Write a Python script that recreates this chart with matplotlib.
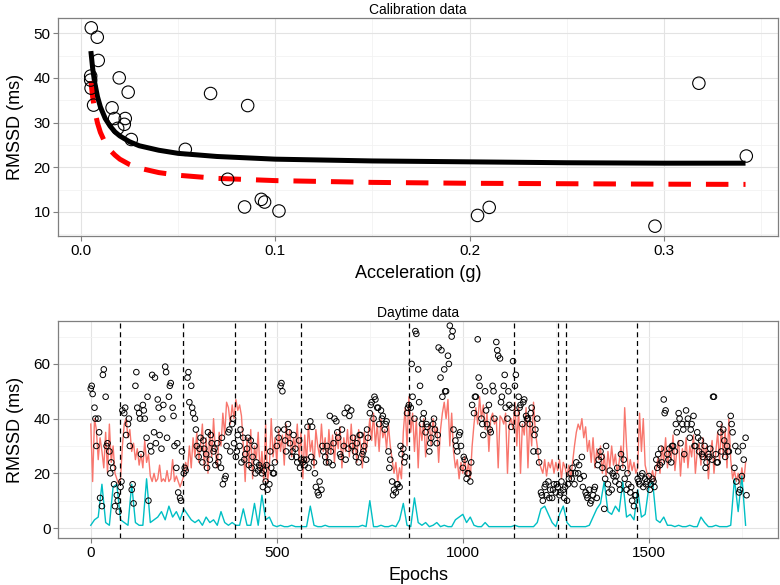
import numpy as np
import matplotlib.pyplot as plt

plt.rcParams['font.family'] = ['Liberation Sans', 'DejaVu Sans']

# calibration data (top panel)
calib_acc = [0.0053, 0.0084, 0.0089, 0.0050, 0.0050, 0.0052, 0.0065, 0.0197, 0.0243,
             0.0160, 0.0173, 0.0228, 0.0223, 0.0189, 0.0259, 0.0537, 0.0667, 0.0858,
             0.0755, 0.0842, 0.0928, 0.0945, 0.1019, 0.2041, 0.2101, 0.2954, 0.3180, 0.3424]
calib_rmssd = [51.2, 49.1, 43.9, 40.4, 39.5, 37.7, 33.9, 40.0, 36.8,
               33.3, 30.9, 30.9, 29.6, 28.7, 26.2, 24.0, 36.5, 33.8,
               17.3, 11.1, 12.8, 12.2, 10.2, 9.2, 11.0, 6.8, 38.8, 22.5]

# fitted curves
fit_acc = [0.0051, 0.006, 0.007, 0.0085, 0.01, 0.0125, 0.015, 0.0175, 0.02, 0.025,
           0.03, 0.04, 0.05, 0.07, 0.1, 0.15, 0.2, 0.25, 0.3, 0.342]
fit_black = [46.0, 42.2, 39.1, 35.8, 33.5, 30.9, 29.2, 27.9, 27.0, 25.7,
             24.8, 23.8, 23.1, 22.4, 21.8, 21.4, 21.2, 21.0, 20.9, 20.9]
fit_red = [39.3, 35.8, 32.9, 29.9, 27.8, 25.4, 23.8, 22.7, 21.8, 20.6,
           19.8, 18.8, 18.2, 17.5, 17.0, 16.6, 16.4, 16.3, 16.2, 16.15]

# daytime data (bottom panel), every 5th epoch
epochs = np.arange(0, 1761, 5)
rmssd_day = [
    51, 49, 44, 30, 40, 11, 8, 58, 48, 31,
    28, 24, 22, 8, 12, 6, 15, 43, 42, 34,
    38, 30, 14, 9, 52, 44, 42, 27, 45, 40,
    33, 10, 30, 56, 35, 31, 47, 34, 29, 45,
    59, 33, 48, 53, 44, 30, 22, 13, 11, 28,
    20, 21, 55, 46, 52, 42, 40, 30, 26, 33,
    24, 29, 27, 35, 25, 31, 28, 23, 31, 26,
    22, 16, 18, 30, 35, 28, 38, 31, 26, 34,
    30, 24, 33, 27, 29, 23, 32, 26, 30, 24,
    21, 22, 20, 21, 17, 14, 16, 22, 20, 24,
    30, 33, 52, 50, 36, 28, 38, 31, 26, 34,
    29, 24, 32, 25, 24, 23, 25, 22, 39, 37,
    24, 15, 13, 17, 14, 28, 26, 30, 24, 28,
    23, 40, 39, 33, 27, 36, 30, 25, 44, 41,
    43, 33, 28, 31, 24, 34, 27, 30, 25, 33,
    42, 46, 40, 47, 44, 38, 43, 41, 36, 39,
    28, 25, 17, 14, 13, 16, 15, 27, 29, 26,
    42, 45, 44, 48, 40, 71, 58, 52, 38, 42,
    35, 37, 28, 33, 38, 36, 31, 66, 55, 48,
    58, 50, 63, 74, 70, 36, 32, 28, 34, 30,
    22, 25, 18, 20, 17, 45, 42, 48, 69, 52,
    40, 34, 50, 38, 45, 35, 52, 40, 68, 63,
    62, 48, 52, 44, 40, 45, 37, 61, 52, 42,
    48, 45, 38, 47, 41, 40, 38, 44, 28, 36,
    40, 24, 13, 10, 15, 12, 17, 14, 11, 16,
    13, 15, 12, 17, 14, 15, 10, 18, 20, 22,
    16, 24, 20, 18, 26, 19, 13, 11, 14, 10,
    12, 15, 11, 25, 28, 22, 7, 30, 16, 21,
    14, 19, 17, 22, 16, 27, 22, 18, 14, 16,
    13, 10, 8, 12, 18, 16, 19, 15, 18, 17,
    19, 16, 18, 15, 25, 27, 23, 24, 47, 43,
    27, 29, 24, 30, 28, 35, 42, 31, 38, 27,
    43, 40, 33, 38, 41, 30, 35, 28, 32, 26,
    30, 24, 27, 29, 25, 48, 27, 24, 38, 28,
    36, 26, 30, 28, 41, 35, 22, 17, 28, 14,
    19, 25, 33]
# more RMSSD points in between (every 10th epoch, shifted by 2.5)
epochs_b = np.arange(2.5, 1763, 10)
rmssd_day_b = [
    52, 40, 35, 56, 30, 20, 16, 10, 17, 44,
    40, 16, 57, 40, 43, 48, 28, 55, 44, 40,
    57, 52, 41, 31, 10, 22, 57, 44, 36, 29,
    32, 22, 34, 29, 24, 33, 19, 36, 40, 28,
    36, 25, 33, 22, 20, 23, 15, 23, 28, 20,
    36, 53, 32, 35, 28, 26, 22, 25, 37, 26,
    20, 12, 30, 24, 41, 31, 35, 26, 42, 29,
    30, 26, 34, 28, 36, 45, 48, 44, 40, 38,
    22, 12, 16, 30, 24, 44, 60, 72, 46, 40,
    38, 31, 40, 34, 65, 50, 60, 72, 30, 35,
    26, 20, 24, 48, 55, 38, 43, 36, 50, 65,
    46, 56, 50, 44, 56, 44, 46, 40, 42, 34,
    28, 12, 16, 11, 14, 16, 13, 11, 16, 18,
    20, 23, 15, 12, 9, 14, 23, 26, 18, 13,
    20, 19, 14, 25, 20, 15, 12, 17, 20, 16,
    14, 17, 22, 29, 42, 25, 30, 38, 40, 36,
    38, 36, 30, 33, 27, 22, 26, 48, 24, 35,
    32, 28, 38, 30, 13, 30, 12]
pred_day = [
    38, 17, 40, 36, 25, 33, 28, 22, 35, 20,
    38, 24, 30, 20, 18, 16, 18, 30, 38, 40,
    33, 36, 28, 31, 25, 29, 23, 27, 22, 32,
    24, 27, 19, 17, 20, 17, 18, 23, 17, 18,
    17, 21, 17, 18, 25, 17, 19, 17, 15, 17,
    19, 24, 21, 30, 22, 33, 26, 35, 24, 30,
    38, 22, 33, 20, 36, 26, 40, 28, 22, 35,
    30, 42, 34, 46, 44, 38, 45, 40, 47, 43,
    45, 41, 30, 17, 33, 22, 36, 18, 30, 25,
    35, 20, 28, 17, 38, 17, 22, 40, 26, 33,
    24, 36, 28, 34, 23, 38, 30, 36, 26, 33,
    29, 38, 25, 35, 18, 34, 24, 38, 28, 32,
    22, 36, 30, 26, 38, 28, 33, 23, 36, 27,
    34, 24, 35, 29, 37, 22, 33, 28, 36, 26,
    38, 27, 34, 24, 36, 30, 22, 35, 28, 33,
    40, 32, 42, 30, 38, 28, 40, 33, 36, 29,
    38, 30, 25, 20, 24, 17, 22, 18, 35, 44,
    30, 48, 35, 42, 28, 40, 22, 38, 32, 40,
    26, 35, 38, 30, 40, 34, 37, 24, 36, 42,
    46, 40, 47, 30, 42, 28, 22, 25, 18, 24,
    20, 26, 19, 24, 18, 30, 38, 44, 38, 48,
    40, 45, 36, 42, 28, 40, 42, 38, 40, 22,
    41, 40, 38, 42, 20, 38, 40, 36, 46, 30,
    44, 20, 38, 34, 44, 22, 40, 30, 46, 35,
    30, 24, 22, 20, 25, 19, 24, 22, 25, 20,
    24, 21, 25, 18, 24, 22, 19, 23, 18, 24,
    30, 35, 38, 36, 40, 33, 37, 28, 32, 24,
    33, 22, 29, 25, 30, 20, 27, 19, 28, 22,
    30, 23, 27, 20, 24, 30, 22, 44, 30, 20,
    25, 21, 24, 20, 22, 42, 28, 40, 23, 20,
    19, 18, 21, 17, 22, 26, 20, 30, 24, 33,
    22, 30, 25, 34, 21, 28, 32, 19, 29, 24,
    33, 22, 30, 26, 34, 20, 28, 31, 23, 33,
    25, 30, 18, 27, 32, 20, 28, 35, 24, 38,
    26, 36, 22, 40, 25, 18, 21, 17, 20, 16,
    22, 17, 24]

# acceleration trace, every 10th epoch
epochs_acc = np.arange(0, 1761, 10)
acc_day = [
    1, 3, 4, 16, 2, 1, 15, 16, 3, 2,
    1, 16, 2, 1, 1, 18, 2, 3, 4, 6,
    3, 8, 4, 6, 3, 7, 5, 3, 2, 3,
    1, 4, 2, 3, 1, 6, 2, 1, 2, 1,
    1, 7, 1, 1, 9, 1, 12, 3, 4, 1,
    0.5, 1, 0.5, 0.5, 1, 0.5, 0.5, 0.5, 0.5, 8,
    1, 0.5, 0.5, 1, 0.5, 0.5, 0.5, 0.5, 0.5, 0.5,
    0.5, 0.5, 0.5, 1, 0.5, 10, 0.5, 0.5, 1, 0.5,
    0.5, 1, 0.5, 3, 9, 1, 0.5, 11, 2, 1,
    2, 0.5, 1, 2, 0.5, 1, 0.5, 0.5, 3, 4,
    5, 2, 4, 1, 0.5, 0.5, 2, 0.5, 0.5, 0.5,
    0.5, 0.5, 0.5, 0.5, 1, 0.5, 0.5, 0.5, 0.5, 0.5,
    2, 7, 8, 5, 2, 0.5, 5, 8, 2, 0.5,
    0.5, 0.5, 0.5, 0.5, 1, 4, 7, 9, 17, 6,
    5, 8, 6, 17, 4, 5, 3, 14, 4, 5,
    15, 17, 3, 2, 4, 1, 1, 0.5, 1, 0.5,
    0.5, 1, 0.5, 0.5, 4, 2, 0.5, 0.5, 1, 0.5,
    0.5, 0.5, 1, 18, 6, 19, 1]

breaks = [78, 249, 387, 467, 566, 856, 1138, 1256, 1278, 1469]


def style(ax):
    for s in ax.spines.values():
        s.set_color('#7f7f7f')
        s.set_linewidth(0.9)
    ax.grid(True, which='major', color='#e3e3e3', lw=0.8)
    ax.grid(True, which='minor', color='#f2f2f2', lw=0.6)
    ax.set_axisbelow(True)
    ax.tick_params(which='major', length=3.5, width=0.8, color='#7f7f7f',
                   labelsize=11, labelcolor='black', pad=2)
    ax.tick_params(which='minor', length=0)


fig = plt.figure(figsize=(7.8, 5.85), dpi=100)
ax1 = fig.add_axes([0.0744, 0.5966, 0.923, 0.3726])
ax2 = fig.add_axes([0.0744, 0.0803, 0.923, 0.371])

# top panel
ax1.plot(fit_acc, fit_black, color='black', lw=3.6, solid_capstyle='butt')
ax1.plot(fit_acc, fit_red, color='#ff0000', lw=3.6, dashes=(4.5, 3))
ax1.scatter(calib_acc, calib_rmssd, s=80, facecolors='none', edgecolors='black', linewidths=0.8, zorder=3)
ax1.set_xlim(-0.0118, 0.3587)
ax1.set_ylim(4.6, 53.4)
ax1.set_xticks([0.0, 0.1, 0.2, 0.3])
ax1.set_xticklabels(['0.0', '0.1', '0.2', '0.3'])
ax1.set_xticks([0.05, 0.15, 0.25, 0.35], minor=True)
ax1.set_yticks([10, 20, 30, 40, 50])
ax1.set_yticks([5, 15, 25, 35, 45], minor=True)
style(ax1)
ax1.set_xlabel('Acceleration (g)', fontsize=13, labelpad=5)
ax1.set_ylabel('RMSSD (ms)', fontsize=13, labelpad=7)
ax1.set_title('Calibration data', fontsize=10, pad=3)

# bottom panel
ax2.plot(epochs, pred_day, color='#F8766D', lw=1.0)
ax2.plot(epochs_acc, acc_day, color='#00BFC4', lw=1.0)
ax2.scatter(epochs, rmssd_day, s=16, facecolors='none', edgecolors='black', linewidths=0.7, zorder=3)
ax2.scatter(epochs_b, rmssd_day_b, s=16, facecolors='none', edgecolors='black', linewidths=0.7, zorder=3)
for b in breaks:
    ax2.axvline(b, color='black', lw=0.9, dashes=(4, 3), zorder=4)
ax2.set_xlim(-88, 1847)
ax2.set_ylim(-3.66, 75.7)
ax2.set_xticks([0, 500, 1000, 1500])
ax2.set_xticks([250, 750, 1250, 1750], minor=True)
ax2.set_yticks([0, 20, 40, 60])
ax2.set_yticks([10, 30, 50, 70], minor=True)
style(ax2)
ax2.set_xlabel('Epochs', fontsize=13, labelpad=5)
ax2.set_ylabel('RMSSD (ms)', fontsize=13, labelpad=7)
ax2.set_title('Daytime data', fontsize=10, pad=3)

fig.savefig('out.png', dpi=100)
